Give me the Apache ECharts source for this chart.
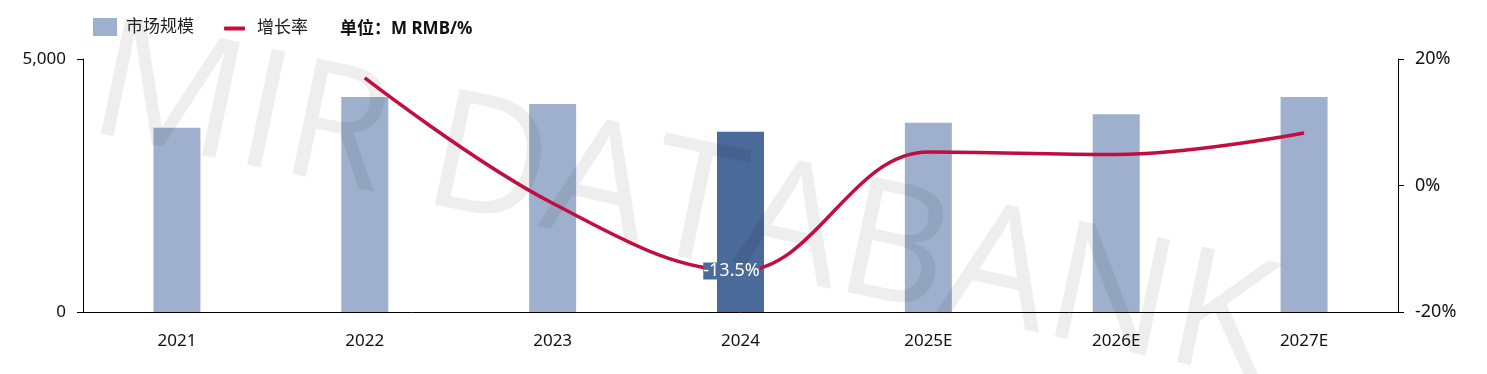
<!DOCTYPE html>
<html><head><meta charset="utf-8">
<script src="https://cdn.jsdelivr.net/npm/echarts@6/dist/echarts.min.js"></script>
<style>html,body{margin:0;padding:0;background:#fff}#c{width:1487px;height:374px}</style>
</head><body><div id="c"></div>
<script>
const categories = ['2021', '2022', '2023', '2024', '2025E', '2026E', '2027E'];
const marketSize = [3640, 4250, 4110, 3560, 3740, 3910, 4250];
const growthRate = [null, 17.0, -2.8, -13.5, 5.3, 4.9, 8.3];
const highlightIndex = 3;
const barName = '市场规模';
const lineName = '增长率';
const unitText = '单位：M RMB/%';
const watermarkText = 'MIR DATABANK';

const FONT = "'Noto Sans', 'Noto Sans CJK SC', sans-serif";
const BAR = '#9eb0cd';
const BAR_DARK = '#4a6a9a';
const LINE = '#c20d3e';

const chart = echarts.init(document.getElementById('c'), null, {renderer: 'canvas'});
chart.setOption({
  animation: false,
  backgroundColor: '#fff',
  grid: {left: 83, right: 89, top: 59, bottom: 62},
  legend: [
    {data: [{name: barName, icon: 'rect'}], left: 93, top: 18, padding: 0, itemWidth: 24, itemHeight: 18,
     textStyle: {fontFamily: FONT, fontSize: 17, color: '#222', padding: [0, 0, 0, 4]}},
    {data: [{name: lineName, icon: 'roundRect'}], left: 224, top: 20, padding: 0, itemWidth: 21, itemHeight: 4,
     textStyle: {fontFamily: FONT, fontSize: 17, color: '#222', padding: [0, 0, 0, 7]}}
  ],
  graphic: [
    {type: 'text', left: 340, top: 21, z: 10,
     style: {text: unitText, font: "bold 17px " + FONT, fill: '#111'}},
    {type: 'text', x: 86, y: 126, rotation: -12 * Math.PI / 180, z: 5, silent: true,
     style: {text: watermarkText, x: 0, y: 40, verticalAlign: 'bottom', align: 'left',
             font: "400 166px 'Open Sans', sans-serif", fill: 'rgba(0,0,0,0.065)'}}
  ],
  xAxis: {
    type: 'category', data: categories,
    axisLine: {lineStyle: {color: '#000', width: 1}},
    axisTick: {show: false},
    axisLabel: {fontFamily: FONT, fontSize: 17, color: '#111', margin: 21}
  },
  yAxis: [
    {type: 'value', min: 0, max: 5000, interval: 5000, position: 'left',
     splitLine: {show: false},
     axisLine: {show: true, lineStyle: {color: '#000'}},
     axisTick: {show: true, length: 6, lineStyle: {color: '#000'}},
     axisLabel: {fontFamily: FONT, fontSize: 17, color: '#111', margin: 17,
       formatter: v => v.toLocaleString('en-US')}},
    {type: 'value', min: -20, max: 20, interval: 20, position: 'right',
     splitLine: {show: false},
     axisLine: {show: true, lineStyle: {color: '#000'}},
     axisTick: {show: true, length: 6, lineStyle: {color: '#000'}},
     axisLabel: {fontFamily: FONT, fontSize: 18, color: '#111', margin: 17,
       formatter: v => v + '%'}}
  ],
  series: [
    {name: barName, type: 'bar', yAxisIndex: 0, barWidth: 47, z: 2,
     itemStyle: {color: BAR},
     data: marketSize.map((v, i) => i === highlightIndex ? {value: v, itemStyle: {color: BAR_DARK}} : v)},
    {name: lineName, type: 'line', yAxisIndex: 1, smooth: 0.38, z: 10,
     showSymbol: true, symbol: 'circle', symbolSize: 0, connectNulls: false,
     lineStyle: {color: LINE, width: 3.5}, itemStyle: {color: LINE},
     data: growthRate.map((v, i) => i === highlightIndex ? {
       value: v,
       label: {show: true, position: 'inside', offset: [-9, 0], formatter: p => p.value.toFixed(1) + '%',
         color: '#fff', fontFamily: FONT, fontSize: 18, lineHeight: 17, backgroundColor: BAR_DARK, padding: [0, 0]}
     } : v)}
  ]
});
</script></body></html>
